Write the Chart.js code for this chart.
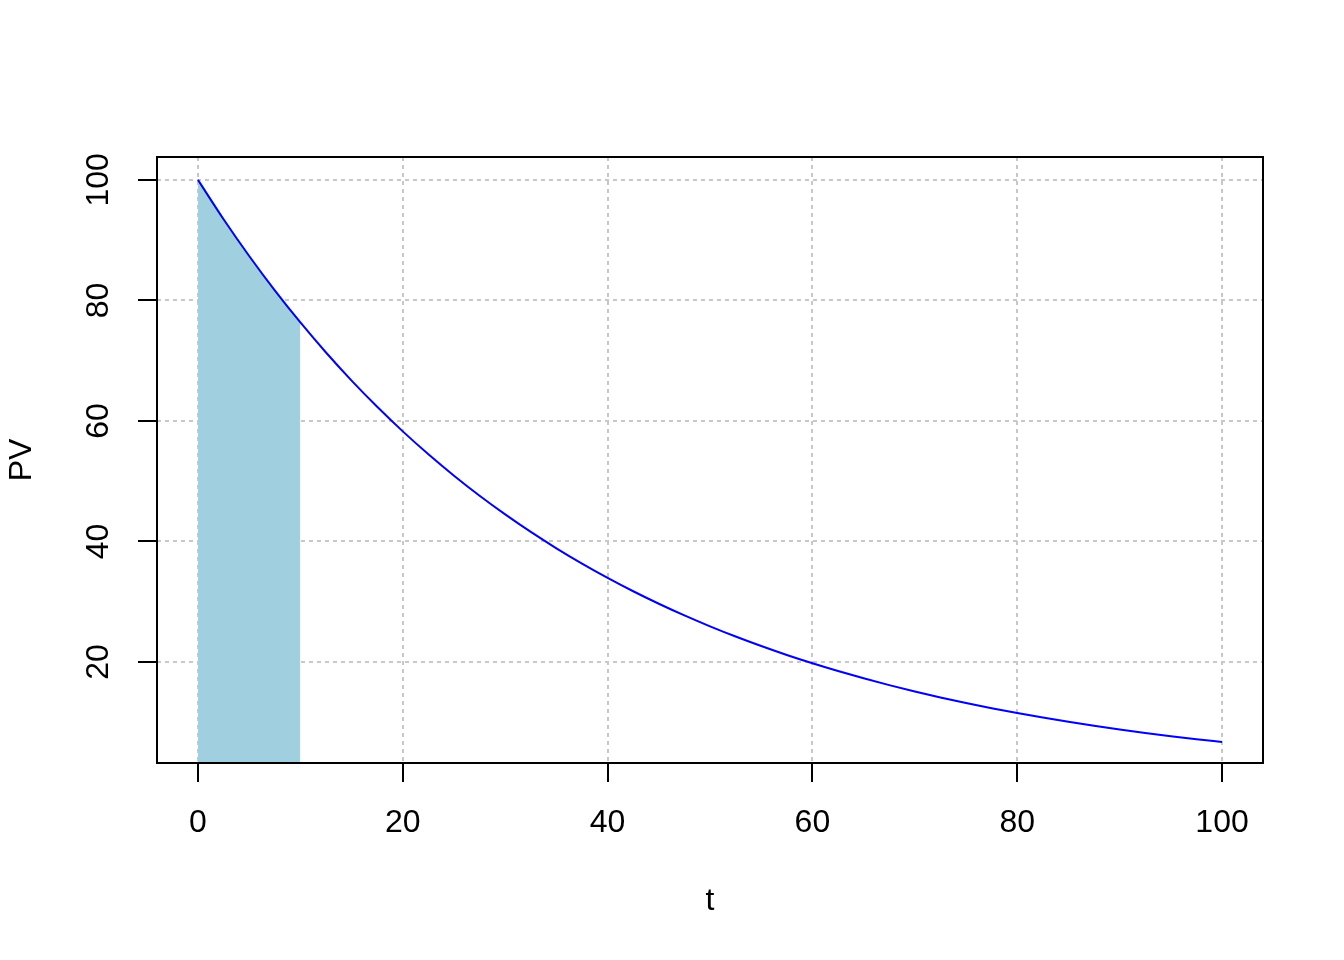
<!DOCTYPE html>
<html>
<head>
<meta charset="utf-8">
<script src="https://cdn.jsdelivr.net/npm/chart.js@4"></script>
<style>
  body { margin: 0; background: #fff; }
  canvas { display: block; }
</style>
</head>
<body>
<canvas id="pvChart" width="1344" height="960"></canvas>
<script>
// values
const tValues = [0, 2.5, 5, 7.5, 10, 12.5, 15, 17.5, 20, 22.5, 25, 27.5, 30, 32.5, 35, 37.5, 40, 42.5, 45, 47.5,
                 50, 52.5, 55, 57.5, 60, 62.5, 65, 67.5, 70, 72.5, 75, 77.5, 80, 82.5, 85, 87.5, 90, 92.5, 95, 97.5, 100];
const pvValues = [100, 93.47, 87.37, 81.67, 76.34, 71.36, 66.70, 62.35, 58.27, 54.47, 50.92, 47.59, 44.49, 41.58, 38.87, 36.33,
                  33.96, 31.74, 29.67, 27.73, 25.92, 24.23, 22.65, 21.17, 19.79, 18.50, 17.29, 16.16, 15.11, 14.12, 13.20,
                  12.34, 11.53, 10.78, 10.08, 9.42, 8.80, 8.23, 7.69, 7.19, 6.72];
const shadeT = [0, 2.5, 5, 7.5, 10];
const shadePV = [100, 93.47, 87.37, 81.67, 76.34];
const xTicks = [0, 20, 40, 60, 80, 100];
const yTicks = [20, 40, 60, 80, 100];

Chart.defaults.font.family = "'Liberation Sans', Arial, sans-serif";
Chart.defaults.color = '#000';

const fontSize = 32;
const tickLen = 19;

// box, tick marks and rotated y labels, as R draws them
const frame = {
    id: 'frame',
    afterDraw(chart) {
        const c = chart.ctx;
        const a = chart.chartArea;
        const xs = chart.scales.x;
        const ys = chart.scales.y;
        c.save();
        c.strokeStyle = '#000';
        c.lineWidth = 2;
        c.strokeRect(a.left, a.top, a.right - a.left, a.bottom - a.top);
        c.beginPath();
        xTicks.forEach(v => {
            const px = Math.round(xs.getPixelForValue(v));
            c.moveTo(px, a.bottom);
            c.lineTo(px, a.bottom + tickLen);
        });
        yTicks.forEach(v => {
            const py = Math.round(ys.getPixelForValue(v));
            c.moveTo(a.left, py);
            c.lineTo(a.left - tickLen, py);
        });
        c.stroke();
        c.fillStyle = '#000';
        c.font = fontSize + "px 'Liberation Sans', Arial, sans-serif";
        c.textAlign = 'center';
        c.textBaseline = 'middle';
        yTicks.forEach(v => {
            c.save();
            c.translate(99, ys.getPixelForValue(v));
            c.rotate(-Math.PI / 2);
            c.fillText(String(v), 0, 0);
            c.restore();
        });
        c.restore();
    }
};

const ctx = document.getElementById('pvChart').getContext('2d');
new Chart(ctx, {
    type: 'line',
    data: {
        datasets: [{
            data: tValues.map((t, i) => ({ x: t, y: pvValues[i] })),
            borderColor: '#0000FF',
            borderWidth: 2,
            pointRadius: 0,
            cubicInterpolationMode: 'monotone',
            fill: false
        }, {
            data: shadeT.map((t, i) => ({ x: t, y: shadePV[i] })),
            borderWidth: 0,
            borderColor: 'rgba(0,0,0,0)',
            backgroundColor: '#A0CFE0',
            pointRadius: 0,
            cubicInterpolationMode: 'monotone',
            fill: 'start'
        }]
    },
    options: {
        responsive: false,
        animation: false,
        events: [],
        layout: { padding: { left: 0, top: 157, right: 81, bottom: 0 } },
        plugins: { legend: { display: false }, tooltip: { enabled: false } },
        scales: {
            x: {
                type: 'linear',
                min: -4,
                max: 104,
                afterBuildTicks: s => { s.ticks = xTicks.map(v => ({ value: v })); },
                afterFit: s => { s.height = 197; },
                grid: { color: '#C8C8C8', lineWidth: 2, drawTicks: false },
                border: { display: false, dash: [4, 4] },
                ticks: { padding: 41, maxRotation: 0, font: { size: fontSize } },
                title: { display: true, text: 't', font: { size: fontSize }, padding: { top: 0, bottom: 40 } }
            },
            y: {
                type: 'linear',
                min: 3.24,
                max: 103.8,
                afterBuildTicks: s => { s.ticks = yTicks.map(v => ({ value: v })); },
                afterFit: s => { s.width = 157; },
                grid: { color: '#C8C8C8', lineWidth: 2, drawTicks: false },
                border: { display: false, dash: [4, 4] },
                ticks: { display: false },
                title: { display: true, text: 'PV', font: { size: fontSize }, padding: { top: 3, bottom: 0 } }
            }
        }
    },
    plugins: [frame]
});
</script>
</body>
</html>
